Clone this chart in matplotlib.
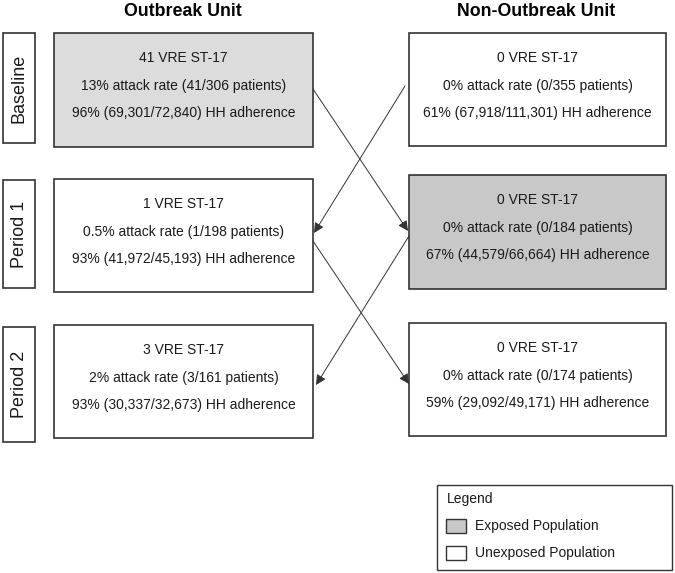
import matplotlib
matplotlib.use("Agg")
import matplotlib.pyplot as plt
from matplotlib.patches import Rectangle

plt.rcParams['font.family'] = ['Liberation Sans', 'DejaVu Sans']

units = ["Outbreak Unit", "Non-Outbreak Unit"]
periods = ["Baseline", "Period 1", "Period 2"]

vre_counts = [[41, 0], [1, 0], [3, 0]]
attack_rates = [["13%", "0%"], ["0.5%", "0%"], ["2%", "0%"]]
attack_num = [[41, 0], [1, 0], [3, 0]]
attack_den = [[306, 355], [198, 184], [161, 174]]
hh_pct = [["96%", "61%"], ["93%", "67%"], ["93%", "59%"]]
hh_num = [["69,301", "67,918"], ["41,972", "44,579"], ["30,337", "29,092"]]
hh_den = [["72,840", "111,301"], ["45,193", "66,664"], ["32,673", "49,171"]]
exposed = [[True, False], [False, True], [False, False]]
legend_labels = ["Exposed Population", "Unexposed Population"]

# layout (pixel coordinates)
col_x = [(54, 313), (409, 666)]
row_y = [[(33, 147), (33, 146)], [(179, 292), (175, 289)], [(325, 438), (323, 436)]]
label_y = [(33, 143), (180, 288), (327, 442)]
fills = {(0, 0): '#dcdcdc', (1, 1): '#c8c8c8'}
edge = '#333333'
txt = '#1a1a1a'

fig = plt.figure(figsize=(6.75, 5.73), dpi=100)
ax = fig.add_axes([0, 0, 1, 1])
ax.set_xlim(0, 675)
ax.set_ylim(573, 0)
ax.axis('off')

# column titles
for j, u in enumerate(units):
    cx = (col_x[j][0] + col_x[j][1]) / 2
    ax.text(cx - 1, 11, u, ha='center', va='center', fontsize=12.8, fontweight='bold')

# row labels
for i, p in enumerate(periods):
    y0, y1 = label_y[i]
    ax.add_patch(Rectangle((3, y0), 32, y1 - y0, fc='white', ec=edge, lw=1.2))
    ax.text(19, (y0 + y1) / 2, p, rotation=90, ha='center', va='center', fontsize=13, color=txt)

# boxes
for i in range(3):
    for j in range(2):
        x0, x1 = col_x[j]
        y0, y1 = row_y[i][j]
        fc = fills.get((i, j), 'white')
        ax.add_patch(Rectangle((x0, y0), x1 - x0, y1 - y0, fc=fc, ec=edge, lw=1.2))
        lines = [
            f"{vre_counts[i][j]} VRE ST-17",
            f"{attack_rates[i][j]} attack rate ({attack_num[i][j]}/{attack_den[i][j]} patients)",
            f"{hh_pct[i][j]} ({hh_num[i][j]}/{hh_den[i][j]}) HH adherence",
        ]
        cx = (x0 + x1) / 2
        for k, t in enumerate(lines):
            ax.text(cx, y0 + 25.5 + 27.5 * k, t, ha='center', va='center', fontsize=10, color=txt)

# arrows
arrows = [
    ((313, 89), (408, 231)),
    ((405, 86), (314, 233)),
    ((313, 241), (409, 384)),
    ((409, 236), (316, 385)),
]
for (s, e) in arrows:
    ax.annotate('', xy=e, xytext=s,
                arrowprops=dict(arrowstyle='-|>,head_length=0.5,head_width=0.25', color=edge, lw=0.7,
                                mutation_scale=12, shrinkA=0, shrinkB=0))

# legend
ax.add_patch(Rectangle((437, 485), 235, 85, fc='white', ec=edge, lw=1.0))
ax.text(447, 499, "Legend", ha='left', va='center', fontsize=10, color=txt)
sw_fc = ['#c8c8c8', 'white']
for k, lab in enumerate(legend_labels):
    yc = 526 + 27 * k
    ax.add_patch(Rectangle((446, yc - 7), 20, 14, fc=sw_fc[k], ec=edge, lw=1.0))
    ax.text(475, yc, lab, ha='left', va='center', fontsize=10, color=txt)

fig.savefig('out.png', dpi=100)
